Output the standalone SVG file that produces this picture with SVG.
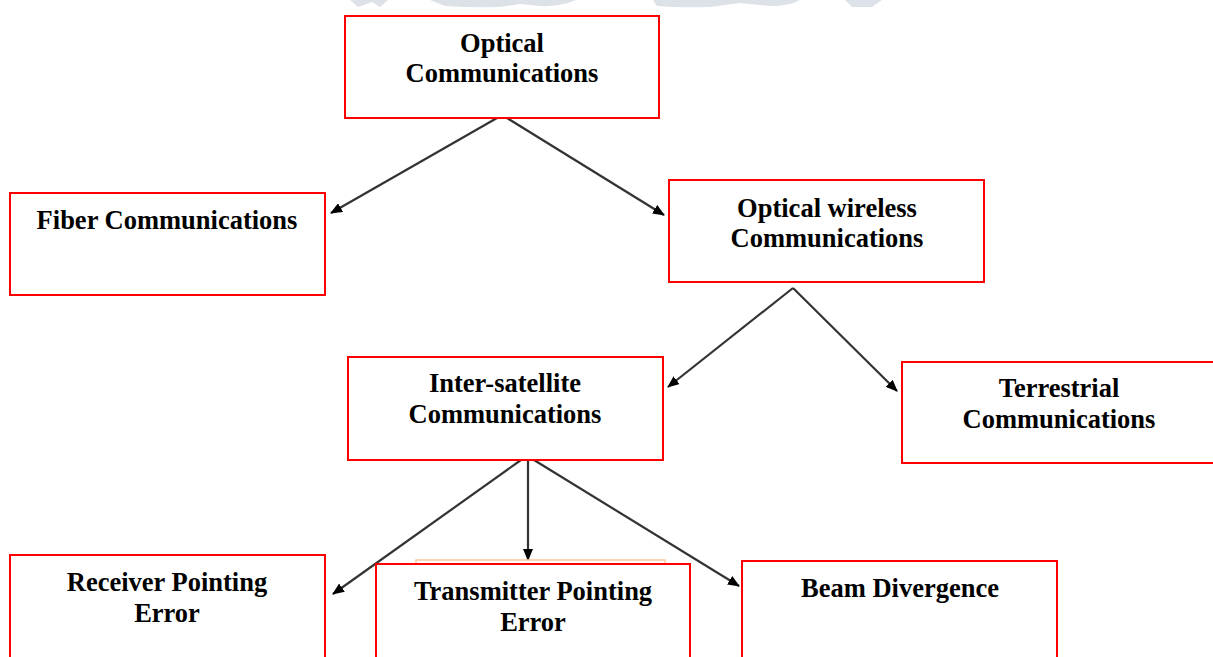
<svg xmlns="http://www.w3.org/2000/svg" width="1213" height="657" viewBox="0 0 1213 657">
<style>
.box{fill:#fff;stroke:#ff0000;stroke-width:2}
.t{font-family:"Liberation Serif","Times New Roman",serif;font-weight:bold;font-size:26.5px;fill:#000;text-anchor:middle}
.c{stroke:#333;stroke-width:2.2;fill:none;marker-end:url(#ah)}
.wm{fill:#dde2e8}
</style>
<defs>
<marker id="ah" viewBox="0 0 12 10" refX="11" refY="5" markerWidth="12" markerHeight="10" markerUnits="userSpaceOnUse" orient="auto">
<path d="M0,0 L12,5 L0,10 Z" fill="#000"/>
</marker>
</defs>
<rect width="1213" height="657" fill="#fff"/>
<g id="watermark">
<path class="wm" d="M350,0 L388,0 L380,7 L372,2 L358,7 Z"/>
<path class="wm" d="M430,0 L576,0 Q560,7 540,6 L520,4 L500,7 Q470,8 445,6 Z"/>
<path class="wm" d="M653,0 L800,0 Q790,6 770,6 L740,3 L710,7 Q680,8 657,6 Z"/>
<path class="wm" d="M845,0 L882,0 L872,7 L852,7 Z"/>
</g>
<g id="connectors">
<line class="c" x1="497" y1="118" x2="331" y2="213"/>
<line class="c" x1="507" y1="118" x2="664" y2="215"/>
<line class="c" x1="793" y1="288" x2="668" y2="387"/>
<line class="c" x1="793" y1="288" x2="897" y2="391"/>
<line class="c" x1="521" y1="460" x2="333" y2="594"/>
<line class="c" x1="528" y1="460" x2="528" y2="560"/>
<line class="c" x1="534" y1="460" x2="739" y2="586"/>
</g>
<g id="n-optical">
<rect class="box" x="345" y="16" width="314" height="102"/>
<text class="t" x="502" y="52">Optical</text>
<text class="t" x="502" y="82">Communications</text>
</g>
<g id="n-fiber">
<rect class="box" x="10" y="193" width="315" height="102"/>
<text class="t" x="167" y="229">Fiber Communications</text>
</g>
<g id="n-wireless">
<rect class="box" x="669" y="180" width="315" height="102"/>
<text class="t" x="827" y="217">Optical wireless</text>
<text class="t" x="827" y="247">Communications</text>
</g>
<g id="n-intersat">
<rect class="box" x="348" y="357" width="315" height="103"/>
<text class="t" x="505" y="392">Inter-satellite</text>
<text class="t" x="505" y="423">Communications</text>
</g>
<g id="n-terrestrial">
<rect class="box" x="902" y="362" width="320" height="101"/>
<text class="t" x="1059" y="397">Terrestrial</text>
<text class="t" x="1059" y="428">Communications</text>
</g>
<g id="n-receiver">
<rect class="box" x="10" y="555" width="315" height="110"/>
<text class="t" x="167" y="591">Receiver Pointing</text>
<text class="t" x="167" y="622">Error</text>
</g>
<g id="n-transmitter">
<rect x="416" y="560" width="249" height="10" fill="#fff" stroke="#f8c9a0" stroke-width="1.5"/>
<rect class="box" x="376" y="564" width="314" height="110"/>
<text class="t" x="533" y="600">Transmitter Pointing</text>
<text class="t" x="533" y="631">Error</text>
</g>
<g id="n-beam">
<rect class="box" x="742" y="561" width="315" height="110"/>
<text class="t" x="900" y="597">Beam Divergence</text>
</g>
</svg>
